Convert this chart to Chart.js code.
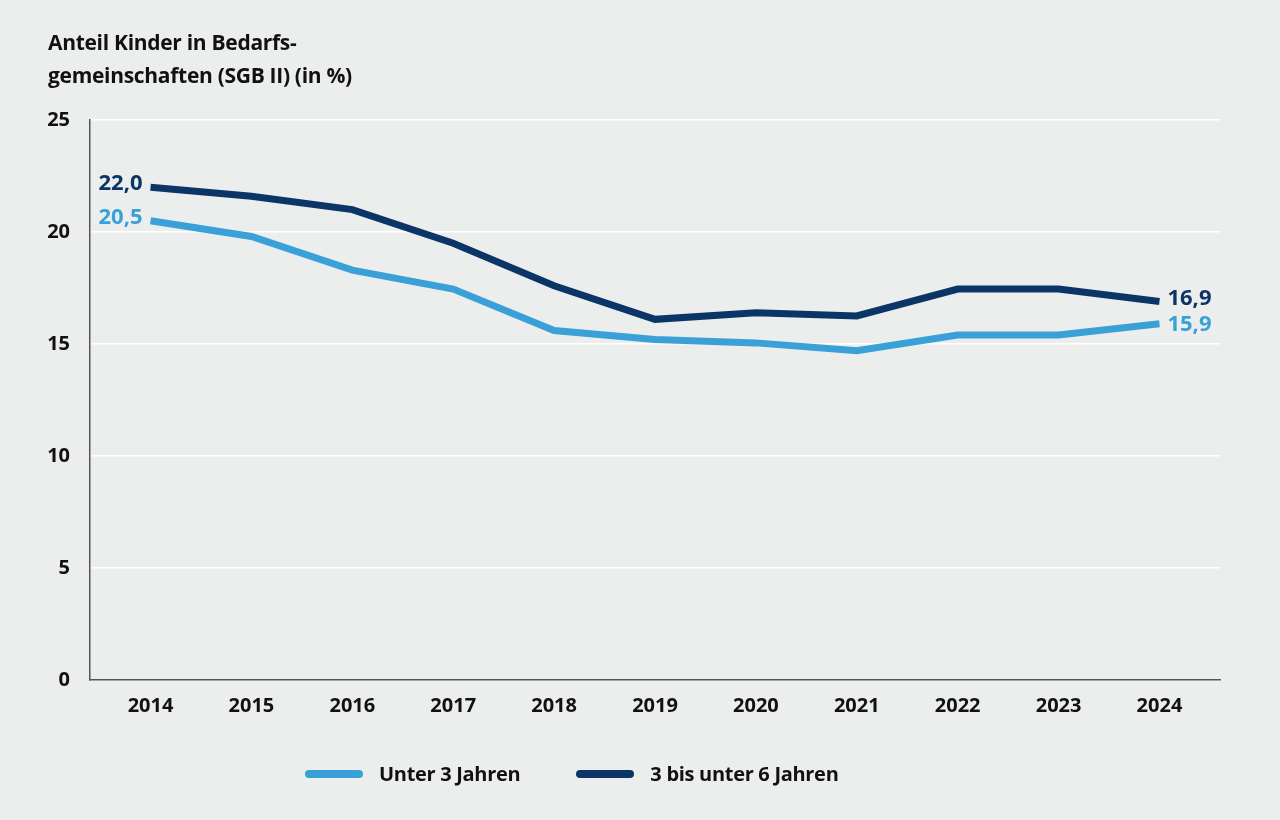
<!DOCTYPE html>
<html><head><meta charset="utf-8">
<script src="https://cdn.jsdelivr.net/npm/chart.js@4"></script>
<style>
html,body{margin:0;padding:0;background:#eceeed;}
#wrap{position:relative;width:1280px;height:820px;}
#title{position:absolute;left:48px;top:26px;font:700 21px "Open Sans";color:#111;line-height:33px;letter-spacing:-0.3px;}
#legend{position:absolute;top:760px;left:305px;font:700 20px "Open Sans";color:#111;display:flex;letter-spacing:-0.3px;}
.li{display:flex;align-items:center;margin-right:56px;}
.sw{width:58px;height:8px;border-radius:4px;margin-right:16px;}
</style></head>
<body><div id="wrap">
<canvas id="c" width="1280" height="820"></canvas>
<div id="title">Anteil Kinder in Bedarfs-<br>gemeinschaften (SGB II) (in %)</div>
<div id="legend"><div class="li"><div class="sw" style="background:#3aa0d8"></div>Unter 3 Jahren</div><div class="li"><div class="sw" style="background:#0b3467"></div>3 bis unter 6 Jahren</div></div>
</div>
<script>
const years=[2014,2015,2016,2017,2018,2019,2020,2021,2022,2023,2024];
const under3=[20.5,19.8,18.3,17.45,15.6,15.2,15.05,14.7,15.4,15.4,15.9];
const age3to6=[22.0,21.6,21.0,19.5,17.6,16.1,16.4,16.25,17.45,17.45,16.9];
const LIGHT='#3aa0d8',DARK='#0b3467';
const labelPlugin={id:'lbl',afterDatasetsDraw(ch){
 const c=ch.ctx;c.save();c.font='700 22px "Open Sans"';c.textBaseline='middle';
 const items=[[1,0,'22,0','right',-8],[0,0,'20,5','right',-8],[1,10,'16,9','left',8],[0,10,'15,9','left',8]];
 items.forEach(([d,i,t,al,dx])=>{const p=ch.getDatasetMeta(d).data[i];c.fillStyle=ch.data.datasets[d].borderColor;c.textAlign=al;c.fillText(t,p.x+dx,p.y-3+(d===0&&i===10?4:0));});
 c.restore();}};
new Chart(document.getElementById('c'),{type:'line',
data:{datasets:[
 {data:years.map((y,i)=>({x:y,y:under3[i]})),borderColor:LIGHT,borderWidth:7,pointRadius:0,tension:0},
 {data:years.map((y,i)=>({x:y,y:age3to6[i]})),borderColor:DARK,borderWidth:7,pointRadius:0,tension:0}]},
options:{responsive:false,animation:false,layout:{padding:{top:120,right:60,left:0,bottom:0}},
 plugins:{legend:{display:false},tooltip:{enabled:false}},
 scales:{
  x:{type:'linear',min:2013.4,max:2024.6,afterFit(s){s.height=140;},
   afterBuildTicks(s){s.ticks=years.map(v=>({value:v}));},
   grid:{display:false,drawTicks:false},border:{color:'#555',width:1.5},
   ticks:{padding:14,color:'#111',font:{family:'Open Sans',size:20,weight:700},callback:v=>String(v)}},
  y:{min:0,max:25,afterFit(s){s.width=90;},
   grid:{color:'#ffffff',lineWidth:1.5,drawTicks:false},border:{color:'#555',width:1.5},
   ticks:{stepSize:5,padding:20,color:'#111',font:{family:'Open Sans',size:20,weight:700}}}}},
plugins:[labelPlugin]});
</script></body></html>
